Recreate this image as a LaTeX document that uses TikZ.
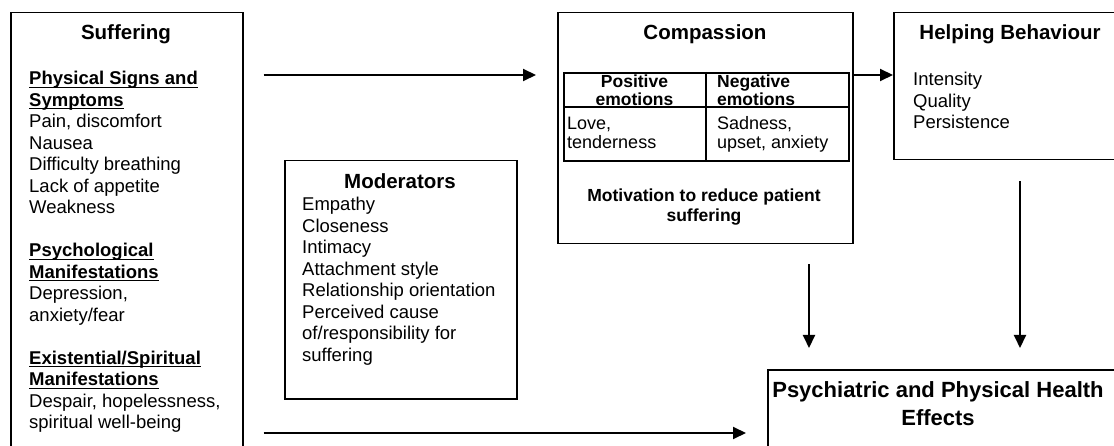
\documentclass[tikz,border=0pt]{standalone}
\usepackage{fontspec}
\setmainfont{Liberation Sans}
\usetikzlibrary{arrows.meta}
% bold heading with a Word-style underline just below the baseline
\newcommand\hdul[1]{\setbox0\hbox{\bfseries #1}\rlap{\rule[-3pt]{\wd0}{1.4pt}}\box0}
\begin{document}
\begin{tikzpicture}[x=1pt,y=-1pt,
  frame/.style={draw, line width=1.5pt, inner sep=0pt, anchor=north west},
  grid/.style={line width=2pt},
  arr/.style={line width=2pt, -{Triangle[length=13pt,width=12pt]}},
  body/.style={font=\fontsize{18.5}{21.5}\selectfont, inner sep=0pt, anchor=base west},
  ttl/.style={font=\fontsize{20.5}{24}\selectfont\bfseries, inner sep=0pt, anchor=base},
  hdr/.style={font=\fontsize{17.5}{15}\selectfont\bfseries, inner sep=0pt},
  cell/.style={font=\fontsize{18}{18}\selectfont, inner sep=0pt, anchor=base west},
]
\useasboundingbox (0,0) rectangle (1114,446);
\clip (0,0) rectangle (1114,446);

% boxes
\node[frame, minimum width=232pt, minimum height=470pt] (suf) at (10,12) {};
\node[frame, minimum width=295pt, minimum height=231pt] (comp) at (557,12) {};
\node[frame, minimum width=240pt, minimum height=147pt] (help) at (893,12) {};
\node[frame, minimum width=232pt, minimum height=238pt] (mod) at (284,160) {};
\node[frame, minimum width=360pt, minimum height=100pt] (psy) at (767,369) {};

% Suffering
\node[ttl] (suft) at (126,40) {Suffering};
\node[body] (sufl) at (29,85) {\begin{tabular}[t]{@{}l@{}}
\hdul{Physical Signs and}\\
\hdul{Symptoms}\\
Pain, discomfort\\
Nausea\\
Difficulty breathing\\
Lack of appetite\\
Weakness\\
\\
\hdul{Psychological}\\
\hdul{Manifestations}\\
Depression,\\
anxiety/fear\\
\\
\hdul{Existential/Spiritual}\\
\hdul{Manifestations}\\
Despair, hopelessness,\\
spiritual well-being
\end{tabular}};

% Compassion with its emotions table
\node[ttl] (compt) at (705,40) {Compassion};
\node[frame, grid, minimum width=285pt, minimum height=88pt] (emo) at (563,72) {};
\draw[grid] ([yshift=-35pt]emo.north west) -- ([yshift=-35pt]emo.north east);
\draw[grid] ([xshift=143pt]emo.north west) -- ([xshift=143pt]emo.south west);
\node[hdr, anchor=base] (pos) at (634.5,88) {\begin{tabular}[t]{@{}c@{}}Positive\\emotions\end{tabular}};
\node[hdr, anchor=base west] (neg) at (717,88) {\begin{tabular}[t]{@{}l@{}}Negative\\emotions\end{tabular}};
\node[cell] (posl) at (567,130) {\begin{tabular}[t]{@{}l@{}}Love,\\tenderness\end{tabular}};
\node[cell] (negl) at (717,130) {\begin{tabular}[t]{@{}l@{}}Sadness,\\upset, anxiety\end{tabular}};
\node[hdr, anchor=base, font=\fontsize{17.5}{19.5}\selectfont\bfseries] (motiv) at (704,202)
  {\begin{tabular}[t]{@{}c@{}}Motivation to reduce patient\\suffering\end{tabular}};

% Helping Behaviour
\node[ttl] (helpt) at (1010,40) {Helping Behaviour};
\node[body] (helpl) at (913,86) {\begin{tabular}[t]{@{}l@{}}Intensity\\Quality\\Persistence\end{tabular}};

% Moderators
\node[ttl] (modt) at (400,189) {Moderators};
\node[body] (modl) at (302,211) {\begin{tabular}[t]{@{}l@{}}
Empathy\\
Closeness\\
Intimacy\\
Attachment style\\
Relationship orientation\\
Perceived cause\\
of/responsibility for\\
suffering
\end{tabular}};

% Psychiatric and Physical Health Effects
\node[ttl, font=\fontsize{22}{28}\selectfont\bfseries] (psyt) at (938,397)
  {\begin{tabular}[t]{@{}c@{}}Psychiatric and Physical Health\\Effects\end{tabular}};

% connectors
\draw[arr, shorten <=20pt, shorten >=21pt] ([yshift=-63pt]suf.north east) -- ([yshift=-63pt]comp.north west);
\draw[arr] ([yshift=-63pt]comp.north east) -- ([yshift=-63pt]help.north west);
\coordinate (cd) at ([xshift=252pt]comp.south west);
\draw[arr, shorten <=20pt, shorten >=21pt] (cd) -- (cd |- psy.north);
\coordinate (hd) at ([xshift=127pt]help.south west);
\draw[arr, shorten <=21pt, shorten >=21pt] (hd) -- (hd |- psy.north);
\coordinate (bl) at ([yshift=-64pt]psy.north west);
\draw[arr, shorten <=20pt, shorten >=21pt] (bl -| suf.east) -- (bl);
\end{tikzpicture}
\end{document}
